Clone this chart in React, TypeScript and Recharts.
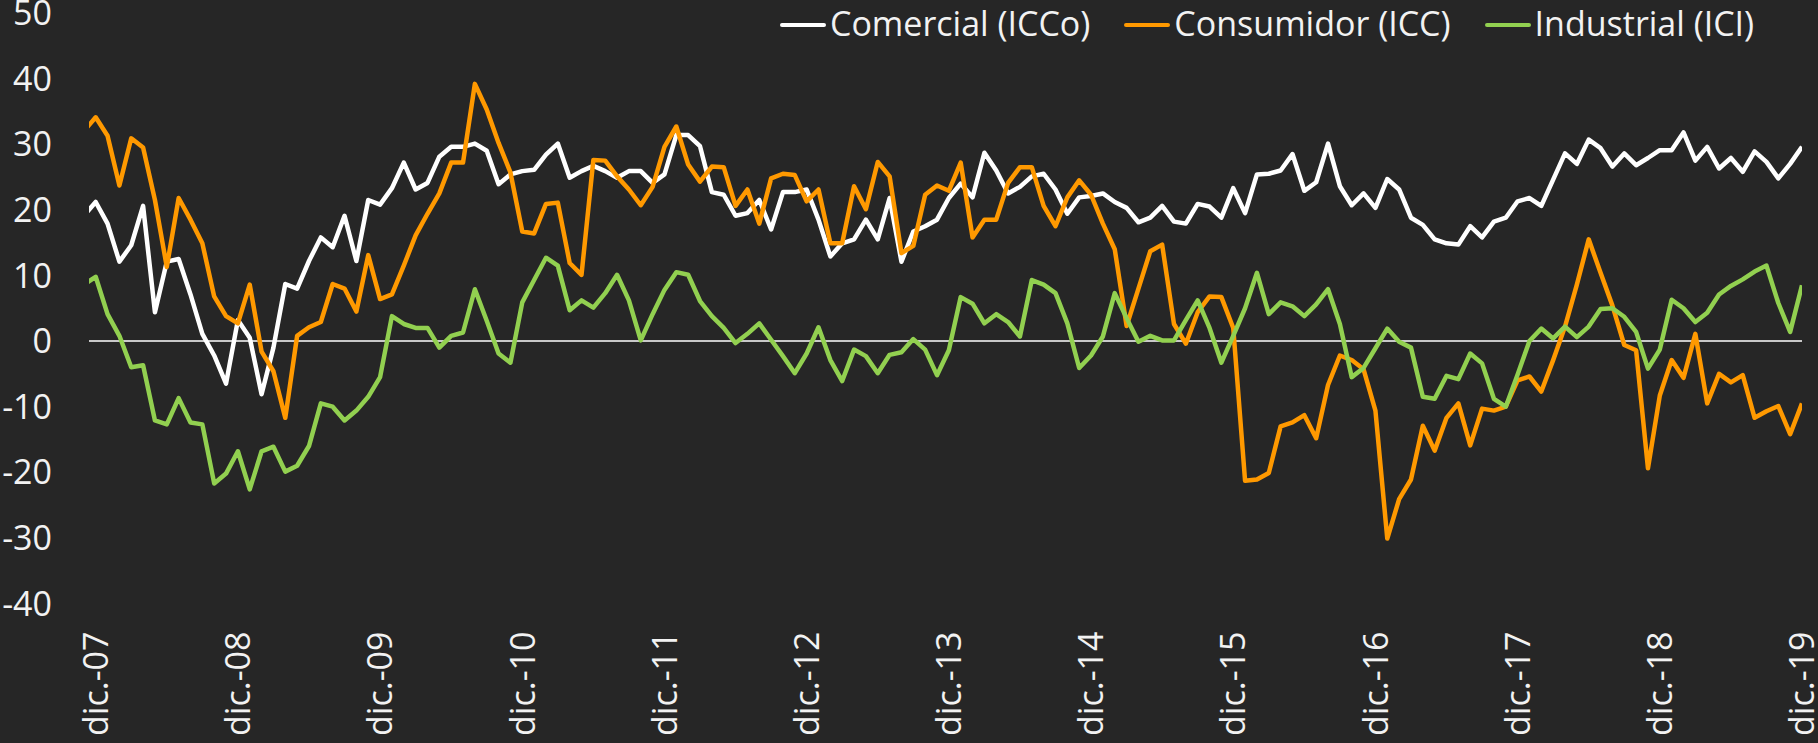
import { LineChart, Line, XAxis, YAxis, ReferenceLine, Legend } from 'recharts'

// x-axis labels, one per December
const tickLabels = [
  'dic.-07', 'dic.-08', 'dic.-09', 'dic.-10', 'dic.-11', 'dic.-12', 'dic.-13',
  'dic.-14', 'dic.-15', 'dic.-16', 'dic.-17', 'dic.-18', 'dic.-19',
]

const yTicks = [-40, -30, -20, -10, 0, 10, 20, 30, 40, 50]

// monthly values, nov.-07 .. dic.-19
const comercial = [
  19.1, 21.2,
  17.9, 12.1, 14.6, 20.6, 4.4, 12.1, 12.5, 7.1, 1.1, -2.2, -6.5, 3.2,
  0.5, -8.1, -1.0, 8.7, 8.0, 12.2, 15.8, 14.3, 19.1, 12.2, 21.5, 20.8,
  23.3, 27.2, 23.1, 24.1, 28.1, 29.6, 29.6, 30.1, 29.0, 23.9, 25.4, 25.9,
  26.1, 28.4, 30.1, 24.9, 25.9, 26.7, 25.9, 24.9, 25.9, 25.9, 24.1, 25.4,
  31.4, 31.4, 29.7, 22.7, 22.3, 19.1, 19.5, 21.5, 17.0, 22.7, 22.7, 23.1,
  18.5, 12.9, 14.9, 15.5, 18.5, 15.5, 21.8, 12.1, 16.7, 17.5, 18.5, 21.8,
  24.0, 21.9, 28.7, 26.0, 22.5, 23.5, 25.1, 25.5, 23.1, 19.4, 21.9, 22.1,
  22.5, 21.2, 20.3, 18.1, 18.8, 20.6, 18.2, 17.9, 20.9, 20.5, 18.8, 23.3,
  19.5, 25.4, 25.5, 26.0, 28.5, 22.9, 24.2, 30.1, 23.6, 20.7, 22.5, 20.3,
  24.7, 23.1, 18.8, 17.7, 15.5, 14.9, 14.7, 17.5, 15.8, 18.2, 18.8, 21.3,
  21.8, 20.6, 24.6, 28.6, 27.0, 30.7, 29.4, 26.6, 28.6, 26.8, 27.9, 29.1,
  29.1, 31.8, 27.5, 29.6, 26.3, 27.9, 25.8, 28.9, 27.3, 24.8, 27.0, 29.6,
]

const consumidor = [
  32.0, 34.1,
  31.3, 23.7, 30.9, 29.5, 21.5, 11.3, 21.8, 18.5, 14.9, 6.8, 3.8, 2.7,
  8.6, -1.6, -4.6, -11.7, 0.8, 2.1, 2.9, 8.7, 8.0, 4.5, 13.1, 6.4,
  7.1, 11.5, 16.1, 19.4, 22.5, 27.2, 27.2, 39.2, 35.3, 30.2, 25.7, 16.7,
  16.4, 20.9, 21.1, 11.9, 10.1, 27.6, 27.5, 25.1, 23.1, 20.7, 23.5, 29.6,
  32.7, 26.9, 24.3, 26.6, 26.5, 20.6, 23.1, 17.9, 24.8, 25.5, 25.3, 21.3,
  23.1, 14.9, 14.9, 23.6, 20.1, 27.3, 25.1, 13.4, 14.5, 22.3, 23.7, 22.9,
  27.2, 15.8, 18.5, 18.5, 24.1, 26.5, 26.5, 20.6, 17.5, 21.9, 24.5, 22.3,
  17.9, 14.0, 2.3, 8.0, 13.7, 14.7, 2.6, -0.4, 4.4, 6.8, 6.7, 2.0,
  -21.3, -21.1, -20.1, -13.0, -12.4, -11.3, -14.8, -6.7, -2.2, -2.9, -4.3, -10.6,
  -30.1, -24.1, -21.1, -12.9, -16.7, -11.7, -9.5, -15.9, -10.3, -10.6, -10.0, -6.0,
  -5.4, -7.7, -2.9, 2.2, 8.6, 15.5, 10.4, 5.4, -0.6, -1.4, -19.4, -8.3,
  -2.9, -5.6, 1.1, -9.5, -5.0, -6.3, -5.2, -11.7, -10.7, -9.9, -14.2, -9.5,
]

const industrial = [
  8.6, 9.8,
  4.1, 0.8, -4.0, -3.7, -12.1, -12.7, -8.7, -12.4, -12.7, -21.7, -20.2, -16.8,
  -22.6, -16.8, -16.1, -19.9, -19.0, -16.0, -9.5, -10.0, -12.1, -10.6, -8.5, -5.5,
  3.8, 2.6, 2.0, 2.0, -1.0, 0.8, 1.3, 7.9, 3.1, -1.9, -3.3, 5.9,
  9.3, 12.7, 11.5, 4.7, 6.2, 5.1, 7.3, 10.1, 6.2, 0.1, 4.1, 7.8,
  10.5, 10.1, 6.1, 3.8, 2.0, -0.3, 1.1, 2.7, 0.2, -2.3, -4.9, -1.9,
  2.1, -2.9, -6.1, -1.3, -2.3, -4.9, -2.1, -1.7, 0.3, -1.3, -5.2, -1.4,
  6.7, 5.7, 2.7, 4.1, 2.9, 0.7, 9.3, 8.6, 7.3, 2.7, -4.1, -2.2,
  0.7, 7.3, 3.5, -0.1, 0.8, 0.1, 0.1, 3.2, 6.2, 2.0, -3.3, 0.8,
  5.0, 10.4, 4.1, 5.9, 5.3, 3.8, 5.6, 7.9, 2.6, -5.5, -4.1, -1.1,
  1.9, -0.1, -1.0, -8.5, -8.8, -5.3, -5.8, -1.9, -3.4, -8.8, -10.0, -5.1,
  0.0, 1.9, 0.4, 2.2, 0.6, 2.2, 4.9, 5.0, 3.7, 1.4, -4.2, -1.3,
  6.3, 5.0, 2.9, 4.3, 7.1, 8.4, 9.4, 10.6, 11.5, 5.8, 1.4, 8.5,
]

const series = [
  { key: 'comercial', name: 'Comercial (ICCo)', color: '#FFFFFF' },
  { key: 'consumidor', name: 'Consumidor (ICC)', color: '#FF9900' },
  { key: 'industrial', name: 'Industrial (ICI)', color: '#92D050' },
]

// t = months since dic.-07 (nov.-07 sits at -1, mostly outside the plot)
const data = comercial.map((v, i) => ({
  t: i - 1,
  comercial: v,
  consumidor: consumidor[i],
  industrial: industrial[i],
}))

const FONT = '"Open Sans", "DejaVu Sans", sans-serif'
const TEXT = '#F2F2F2'

function MonthTick(props: any) {
  const { x, y, payload } = props
  const top = y + 20
  return (
    <text
      x={x}
      y={top}
      transform={`rotate(-90, ${x}, ${top})`}
      textAnchor="end"
      dy="0.36em"
      fill={TEXT}
      fontSize={34}
      fontFamily={FONT}
    >
      {tickLabels[Math.round(payload.value / 12)]}
    </text>
  )
}

function LegendBox() {
  return (
    <div style={{ display: 'flex', alignItems: 'center', fontFamily: FONT, fontSize: 34, lineHeight: '34px', color: TEXT, whiteSpace: 'nowrap' }}>
      {series.map((s) => (
        <div key={s.key} style={{ display: 'flex', alignItems: 'center', marginRight: 34 }}>
          <span style={{ display: 'inline-block', width: 46, height: 4, borderRadius: 2, background: s.color, marginRight: 4, position: 'relative', top: 2 }} />
          <span>{s.name}</span>
        </div>
      ))}
    </div>
  )
}

export default function App() {
  return (
    <div style={{ position: 'absolute', left: 0, top: 0, width: 1818, height: 743, background: '#262626' }}>
      <LineChart width={1818} height={743} data={data} margin={{ top: 13, right: 16, bottom: 0, left: 0 }}>
        <XAxis
          dataKey="t"
          type="number"
          domain={[-0.565, 144]}
          allowDataOverflow
          ticks={tickLabels.map((_, k) => k * 12)}
          tick={<MonthTick />}
          interval={0}
          axisLine={false}
          tickLine={false}
          height={139.5}
        />
        <YAxis
          type="number"
          domain={[-40, 50]}
          ticks={yTicks}
          interval={0}
          axisLine={false}
          tickLine={false}
          width={89}
          tickMargin={31}
          tick={{ fill: TEXT, fontSize: 34, fontFamily: FONT }}
        />
        <ReferenceLine y={0} stroke="#FFFFFF" strokeWidth={1.5} />
        <Legend
          layout="vertical"
          align="center"
          verticalAlign="middle"
          wrapperStyle={{ top: 6, left: 780, width: 1030 }}
          content={() => <LegendBox />}
        />
        {series.map((s) => (
          <Line
            key={s.key}
            type="linear"
            dataKey={s.key}
            name={s.name}
            stroke={s.color}
            strokeWidth={4.5}
            strokeLinejoin="round"
            dot={false}
            activeDot={false}
            isAnimationActive={false}
          />
        ))}
      </LineChart>
    </div>
  )
}
